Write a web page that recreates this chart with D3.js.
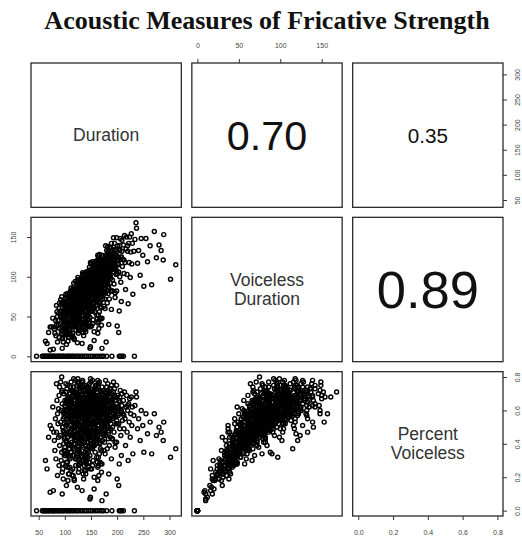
<!DOCTYPE html>
<html><head><meta charset="utf-8">
<script src="https://cdn.jsdelivr.net/npm/d3@7"></script>
<style>body{margin:0;background:#fff}svg{display:block}</style>
</head><body>
<script>
// Fricative tokens: total duration (ms), voiceless duration (ms), proportion voiceless
const duration = [
  63,66,69,72,78,94,148,149,171,
  72,75,79,84,81,83,86,88,77,89,85,87,90,82,89,80,86,88,84,90,
  92,95,94,97,99,101,103,105,107,109,91,93,96,98,100,102,104,106,108,110,
  92,95,97,99,101,103,105,107,109,94,96,98,100,102,104,106,108,93,97,101,
  105,103,107,99,109,
  111,112,113,114,115,116,117,118,119,120,121,122,123,124,125,126,127,128,129,130,
  111,112,113,114,115,116,117,118,119,120,121,122,123,124,125,126,127,128,129,130,
  111,113,115,117,119,121,123,125,127,129,112,114,116,118,120,122,124,126,128,130,
  110,112,114,116,118,120,122,124,126,128,
  131,132,133,134,135,136,137,138,139,140,141,142,143,144,145,146,147,148,149,150,
  131,132,133,134,135,136,137,138,139,140,141,142,143,144,145,146,147,148,149,150,
  131,133,135,137,139,141,143,145,147,149,132,134,136,138,140,142,144,146,148,150,
  130,133,136,139,142,145,148,135,141,147,132,134,137,140,143,146,149,138,144,150,
  151,152,153,154,155,156,157,158,159,160,161,162,163,164,165,166,167,168,169,170,
  151,152,153,154,155,156,157,158,159,160,161,162,163,164,165,166,167,168,169,170,
  150,153,156,159,162,165,168,152,158,164,170,151,154,157,160,163,166,169,155,161,167,
  152,155,158,161,164,167,170,163,166,
  171,172,173,174,175,176,177,178,179,180,181,182,183,184,185,186,187,188,189,190,
  171,173,175,177,179,181,183,185,187,189,172,174,176,178,180,182,184,186,188,190,
  173,177,181,185,189,175,179,183,187,171,
  191,192,193,194,195,196,197,198,199,200,201,202,203,204,205,206,207,208,209,210,
  191,193,195,197,199,201,203,205,207,209,192,196,200,204,208,
  211,212,213,214,215,216,217,218,219,220,221,222,223,224,225,226,227,228,229,230,
  232,234,236,237,239,241,244,246,249,251,255,258,
  263,266,271,275,280,284,288,289,302,312,
  104,118,131,142,156,167,179,188,124,137,149,161,113,128,146,171,183,135,152,163,
  109,121,133,144,158,169,176,192,127,139,151,165,116,130,148,174,186,141,154,160,
  99,114,126,138,147,157,168,181,196,122,134,145,153,162,175,119,140,150,166,143,
  96,102,108,115,121,127,133,139,146,153,98,105,111,118,124,131,137,144,157,164,
  106,112,117,123,129,136,142,149,155,161,168,173,178,184,190,197,203,132,145,158,
  101,107,113,119,125,132,138,144,151,159,165,172,180,187,194,128,135,141,148,155,
  97,103,110,116,122,129,134,140,147,152,158,163,170,177,182,189,199,205,213,220,
  100,108,115,123,130,137,143,150,156,163,170,176,104,119,126,139,146,160,167,184,
  95,102,111,120,127,134,141,149,156,164,171,178,186,193,117,145,153,139,125,160,
  105,113,121,128,136,143,151,158,166,174,181,188,195,202,110,133,147,162,176,192,
  98,107,114,122,129,135,142,148,155,162,169,177,185,103,117,131,146,159,173,188,
  101,110,118,126,133,140,147,154,161,168,175,183,191,112,125,138,151,164,178,196,
  105,113,120,127,134,141,149,156,163,170,178,186,194,108,123,137,152,166,181,199,
  96,104,111,119,126,132,139,145,152,158,165,171,179,187,115,129,143,157,172,200,
  100,106,113,120,127,133,140,146,153,160,167,174,182,190,118,136,150,165,180,195,
  95,103,109,116,122,128,135,142,149,156,163,170,99,112,126,140,153,167,106,133,
  102,109,116,124,131,138,144,151,157,164,171,178,184,192,121,135,148,162,176,208,
  111,119,128,136,145,154,163,172,181,114,132,150,168,186,125,143,161,179,139,157,
  46,57,58,61,62,64,67,68,70,73,74,77,79,80,83,86,88,90,93,96,
  97,101,104,106,109,112,115,117,121,124,127,131,134,138,141,145,149,153,158,162,
  167,171,174,180,190,204,206,209,212,233
];
const voicelessDur = [
  19,16,30,8,9,75,10,12,10,
  37,37,37,64,29,26,50,39,48,24,56,45,35,45,61,34,18,54,39,67,
  71,10,33,47,55,63,42,30,57,73,41,56,24,69,38,52,76,47,35,64,
  49,61,18,43,33,68,60,24,51,67,48,35,63,28,57,72,43,28,57,46,
  79,15,65,51,40,
  62,71,46,82,56,38,68,78,54,65,33,84,63,74,48,96,60,79,71,56,
  39,54,76,24,68,86,47,63,76,37,69,56,86,17,76,66,46,87,57,75,
  72,61,29,83,60,51,74,99,71,37,44,71,66,21,79,41,61,79,52,95,
  56,86,51,72,44,71,65,83,29,70,
  80,62,93,74,51,87,71,104,61,81,41,94,72,86,51,105,71,84,63,102,
  43,78,61,105,84,26,74,57,96,71,89,53,106,65,81,38,96,78,106,60,
  64,16,77,92,43,78,87,68,112,86,91,58,71,83,31,71,105,57,95,81,
  86,77,46,88,80,99,65,97,65,87,70,87,37,98,51,89,75,66,82,116,
  94,73,109,86,60,103,83,117,72,96,52,110,83,103,69,128,92,79,108,61,
  38,88,67,108,95,20,105,82,64,117,92,47,106,80,97,56,120,101,78,117,
  86,95,78,119,87,35,111,58,100,92,88,104,66,91,74,127,101,47,110,105,68,
  97,82,55,77,121,104,99,29,91,
  108,88,125,78,117,102,60,125,18,110,98,138,88,120,72,110,137,98,125,82,
  48,97,86,113,127,67,110,126,103,59,119,108,72,101,133,91,40,123,113,133,
  81,94,118,105,142,63,111,132,82,99,
  122,106,137,91,117,74,134,103,149,38,125,115,30,135,100,148,122,69,132,113,
  82,118,142,110,82,139,106,133,93,146,129,114,124,57,125,
  122,140,104,152,118,84,135,150,103,132,66,142,118,150,99,131,154,116,142,78,
  132,147,168,161,117,133,102,148,127,88,148,119,
  139,90,157,124,140,133,121,153,97,115,
  54,76,76,101,76,104,98,128,56,82,109,92,75,64,92,82,128,76,99,96,
  66,64,89,68,93,122,90,121,88,75,69,109,67,96,77,104,106,94,77,99,
  47,79,71,86,104,83,108,105,129,73,101,74,104,73,110,65,69,105,95,87,
  27,35,24,44,38,32,55,49,42,57,39,27,37,22,45,55,33,46,61,44,
  68,64,84,75,86,80,77,97,108,85,114,102,110,101,125,112,124,58,62,74,
  59,54,70,57,88,83,79,98,91,105,84,110,124,112,109,45,41,39,49,62,
  53,62,73,61,77,74,82,73,97,85,95,112,92,115,107,117,107,139,121,139,
  44,42,53,52,62,62,59,70,67,80,75,81,36,50,49,64,55,69,67,86,
  68,78,82,94,93,103,106,118,112,125,127,139,136,149,92,107,119,100,96,120,
  68,67,63,84,83,79,95,92,111,108,103,120,117,117,77,64,82,86,116,117,
  57,67,56,85,71,90,87,78,112,104,98,120,113,43,67,97,91,110,95,124,
  36,34,52,34,52,46,68,46,68,62,84,79,96,27,43,40,57,52,80,80,
  70,81,72,81,75,99,88,103,88,121,112,106,134,59,92,85,88,113,94,127,
  48,49,61,61,58,70,68,81,79,76,91,86,95,92,52,66,77,79,81,104,
  66,64,72,70,79,92,80,95,93,88,105,117,102,114,84,87,100,97,119,121,
  22,30,28,24,39,36,30,43,37,31,42,39,33,39,38,34,41,48,19,43,
  72,61,79,66,79,90,84,106,99,93,113,107,131,111,75,74,102,104,104,125,
  50,62,52,65,64,60,77,72,92,71,77,92,96,100,83,84,101,109,78,102,
  0,0,0,0,0,0,0,0,0,0,0,0,0,0,0,0,0,0,0,0,
  0,0,0,0,0,0,0,0,0,0,0,0,0,0,0,0,0,0,0,0,
  0,0,0,0,0,0,0,0,0,0
];
const pctVoiceless = [
  .30,.25,.44,.11,.12,.80,.07,.08,.06,
  .51,.49,.47,.76,.36,.31,.58,.44,.62,.27,.66,.52,.39,.55,.69,.42,.21,.61,.47,.74,
  .77,.10,.35,.48,.56,.62,.41,.29,.53,.67,.45,.60,.25,.70,.38,.51,.73,.44,.32,.58,
  .53,.64,.19,.43,.33,.66,.57,.22,.47,.71,.50,.36,.63,.27,.55,.68,.40,.30,.59,.46,
  .75,.15,.61,.52,.37,
  .56,.63,.41,.72,.49,.33,.58,.66,.45,.54,.27,.69,.51,.60,.38,.76,.47,.62,.55,.43,
  .35,.48,.67,.21,.59,.74,.40,.53,.64,.31,.57,.46,.70,.14,.61,.52,.36,.68,.44,.58,
  .65,.54,.25,.71,.50,.42,.60,.79,.56,.29,.39,.62,.57,.18,.66,.34,.49,.63,.41,.73,
  .51,.77,.45,.62,.37,.59,.53,.67,.23,.55,
  .61,.47,.70,.55,.38,.64,.52,.75,.44,.58,.29,.66,.50,.60,.35,.72,.48,.57,.42,.68,
  .33,.59,.46,.78,.62,.19,.54,.41,.69,.51,.63,.37,.74,.45,.56,.26,.65,.53,.71,.40,
  .49,.12,.57,.67,.31,.55,.61,.47,.76,.58,.69,.43,.52,.60,.22,.50,.73,.39,.64,.54,
  .66,.58,.34,.63,.56,.68,.44,.72,.46,.59,.53,.65,.27,.70,.36,.61,.50,.48,.57,.77,
  .62,.48,.71,.56,.39,.66,.53,.74,.45,.60,.32,.68,.51,.63,.42,.77,.55,.47,.64,.36,
  .25,.58,.44,.70,.61,.13,.67,.52,.40,.73,.57,.29,.65,.49,.59,.34,.72,.60,.46,.69,
  .57,.62,.50,.75,.54,.21,.66,.38,.63,.56,.52,.69,.43,.58,.46,.78,.61,.28,.71,.65,.41,
  .64,.53,.35,.48,.74,.62,.58,.18,.55,
  .63,.51,.72,.45,.67,.58,.34,.70,.10,.61,.54,.76,.48,.65,.39,.59,.73,.52,.66,.43,
  .28,.56,.49,.64,.71,.37,.60,.68,.55,.31,.69,.62,.41,.57,.74,.50,.22,.66,.60,.70,
  .47,.53,.65,.57,.75,.36,.62,.72,.44,.58,
  .64,.55,.71,.47,.60,.38,.68,.52,.75,.19,.62,.57,.15,.66,.49,.72,.59,.33,.63,.54,
  .43,.61,.73,.56,.41,.69,.52,.65,.45,.70,.67,.58,.62,.28,.60,
  .58,.66,.49,.71,.55,.39,.62,.69,.47,.60,.30,.64,.53,.67,.44,.58,.68,.51,.62,.34,
  .57,.63,.71,.68,.49,.55,.42,.60,.51,.35,.58,.46,
  .53,.34,.58,.45,.50,.47,.42,.53,.32,.37,
  .52,.64,.58,.71,.49,.62,.55,.68,.45,.60,.73,.57,.66,.50,.63,.48,.70,.56,.65,.59,
  .61,.53,.67,.47,.59,.72,.51,.63,.69,.54,.46,.66,.58,.74,.52,.60,.57,.67,.50,.62,
  .47,.69,.56,.62,.71,.53,.64,.58,.66,.60,.75,.51,.68,.45,.63,.55,.49,.70,.57,.61,
  .28,.34,.22,.38,.31,.25,.41,.35,.29,.37,.40,.26,.33,.19,.36,.42,.24,.32,.39,.27,
  .64,.57,.72,.61,.67,.59,.54,.65,.70,.53,.68,.59,.62,.55,.66,.57,.61,.44,.43,.47,
  .58,.50,.62,.48,.70,.63,.57,.68,.60,.66,.51,.64,.69,.60,.56,.35,.30,.28,.33,.40,
  .55,.60,.66,.53,.63,.57,.61,.52,.66,.56,.60,.69,.54,.65,.59,.62,.54,.68,.57,.63,
  .44,.39,.46,.42,.48,.45,.41,.47,.43,.49,.44,.46,.35,.42,.39,.46,.38,.43,.40,.47,
  .72,.76,.74,.78,.73,.77,.75,.79,.72,.76,.74,.78,.73,.77,.79,.74,.78,.72,.77,.75,
  .65,.59,.52,.66,.61,.55,.63,.58,.67,.62,.57,.64,.60,.58,.70,.48,.56,.53,.66,.61,
  .58,.63,.49,.70,.55,.67,.61,.53,.72,.64,.58,.68,.61,.42,.57,.74,.62,.69,.55,.66,
  .36,.31,.44,.27,.39,.33,.46,.30,.42,.37,.48,.43,.50,.24,.34,.29,.38,.32,.45,.41,
  .67,.72,.60,.64,.56,.70,.59,.66,.54,.71,.63,.57,.69,.55,.75,.62,.58,.68,.52,.64,
  .50,.47,.55,.51,.46,.53,.49,.56,.52,.48,.55,.50,.53,.49,.45,.51,.54,.50,.47,.52,
  .66,.60,.64,.58,.62,.69,.57,.65,.61,.55,.63,.67,.56,.60,.71,.64,.67,.59,.66,.62,
  .23,.29,.26,.21,.32,.28,.22,.30,.25,.20,.26,.23,.33,.35,.30,.24,.27,.29,.18,.32,
  .71,.56,.68,.53,.60,.65,.58,.70,.63,.57,.66,.60,.71,.58,.62,.55,.69,.64,.59,.60,
  .45,.52,.41,.48,.44,.39,.47,.42,.51,.62,.58,.61,.57,.54,.66,.59,.63,.61,.56,.65,
  0,0,0,0,0,0,0,0,0,0,0,0,0,0,0,0,0,0,0,0,
  0,0,0,0,0,0,0,0,0,0,0,0,0,0,0,0,0,0,0,0,
  0,0,0,0,0,0,0,0,0,0
];

const varLabels = [["Duration"], ["Voiceless", "Duration"], ["Percent", "Voiceless"]];
// correlations shown in the upper panels: (1,2), (1,3), (2,3)
const corrPairs = [[0, 1], [0, 2], [1, 2]];
const corrValues = [0.70, 0.35, 0.89];
const corrLabels = ["0.70", "0.35", "0.89"];
const durationTicks = [50, 100, 150, 200, 250, 300];
const voicelessTicks = [0, 50, 100, 150];
const pctTicks = [0, 0.2, 0.4, 0.6, 0.8];
const pctTickLabels = ["0.0", "0.2", "0.4", "0.6", "0.8"];
const titleText = "Acoustic Measures of Fricative Strength";

if (duration.length !== voicelessDur.length || duration.length !== pctVoiceless.length) {
  throw new Error("length mismatch " + duration.length + " " + voicelessDur.length + " " + pctVoiceless.length);
}

const W = 522, H = 540;
const plotLeft = 31, plotRight = 503, plotTop = 63, plotBottom = 516;
const gapX = 10.5, gapY = 10;
const cw = (plotRight - plotLeft - 2 * gapX) / 3;
const ch = (plotBottom - plotTop - 2 * gapY) / 3;
const cellX = i => plotLeft + i * (cw + gapX);
const cellY = j => plotTop + j * (ch + gapY);

const sans = "'Liberation Sans', Arial, Helvetica, sans-serif";
const columns = [duration, voicelessDur, pctVoiceless];
const tickSets = [durationTicks, voicelessTicks, pctTicks];
const tickFormats = [d => String(d), d => String(d), d => pctTickLabels[pctTicks.indexOf(d)]];

// R-style 4% padding around each variable's range
const domains = columns.map(v => {
  const [lo, hi] = d3.extent(v);
  const p = (hi - lo) * 0.04;
  return [lo - p, hi + p];
});
const xs = domains.map((dom, i) => d3.scaleLinear().domain(dom).range([cellX(i), cellX(i) + cw]));
const ys = domains.map((dom, j) => d3.scaleLinear().domain(dom).range([cellY(j) + ch, cellY(j)]));

const svg = d3.select("body").append("svg").attr("width", W).attr("height", H);
svg.append("rect").attr("width", W).attr("height", H).attr("fill", "#fff");

svg.append("text")
  .attr("x", (plotLeft + plotRight) / 2).attr("y", 29)
  .attr("text-anchor", "middle")
  .attr("font-family", "'Liberation Serif', 'Times New Roman', serif")
  .attr("font-weight", "bold").attr("font-size", 26).attr("fill", "#111")
  .text(titleText);

for (let j = 0; j < 3; j++) {
  for (let i = 0; i < 3; i++) {
    const g = svg.append("g");
    const x0 = cellX(i), y0 = cellY(j);
    if (j > i) {
      const pts = d3.range(duration.length);
      g.selectAll("circle").data(pts).join("circle")
        .attr("cx", k => xs[i](columns[i][k]))
        .attr("cy", k => ys[j](columns[j][k]))
        .attr("r", 2.0)
        .attr("fill", "none").attr("stroke", "#000").attr("stroke-width", 1.45);
    } else if (i === j) {
      const lines = varLabels[i];
      const lh = 19;
      lines.forEach((t, k) => {
        g.append("text")
          .attr("x", x0 + cw / 2)
          .attr("y", y0 + ch / 2 + (k - (lines.length - 1) / 2) * lh)
          .attr("dy", "0.35em")
          .attr("text-anchor", "middle")
          .attr("font-family", sans).attr("font-size", 17.5).attr("fill", "#333")
          .text(t);
      });
    } else {
      const c = corrPairs.findIndex(p => p[0] === j && p[1] === i);
      g.append("text")
        .attr("x", x0 + cw / 2).attr("y", y0 + ch / 2)
        .attr("dy", "0.36em")
        .attr("text-anchor", "middle")
        .attr("font-family", sans).attr("font-size", 59 * corrValues[c]).attr("fill", "#111")
        .text(corrLabels[c]);
    }
    g.append("rect")
      .attr("x", x0).attr("y", y0).attr("width", cw).attr("height", ch)
      .attr("fill", "none").attr("stroke", "#2a2a2a").attr("stroke-width", 1.3);
  }
}

function styleAxis(g) {
  g.select(".domain").remove();
  g.selectAll(".tick line").attr("stroke", "#333").attr("stroke-width", 1);
  g.selectAll(".tick text").attr("font-family", sans).attr("font-size", 7).attr("fill", "#444");
}

// column axes: bottom for odd columns, top for even
for (let i = 0; i < 3; i++) {
  if (i % 2 === 0) {
    svg.append("g").attr("transform", `translate(0,${plotBottom})`)
      .call(d3.axisBottom(xs[i]).tickValues(tickSets[i]).tickFormat(tickFormats[i]).tickSize(4))
      .call(styleAxis)
      .call(g => g.selectAll(".tick text").attr("y", 17).attr("dy", "0.35em"));
  } else {
    svg.append("g").attr("transform", `translate(0,${plotTop})`)
      .call(d3.axisTop(xs[i]).tickValues(tickSets[i]).tickFormat(tickFormats[i]).tickSize(4))
      .call(styleAxis)
      .call(g => g.selectAll(".tick text").attr("y", -17).attr("dy", "0.35em"));
  }
}
// row axes: right for odd rows, left for even
for (let j = 0; j < 3; j++) {
  if (j % 2 === 0) {
    svg.append("g").attr("transform", `translate(${plotRight},0)`)
      .call(d3.axisRight(ys[j]).tickValues(tickSets[j]).tickFormat(tickFormats[j]).tickSize(4))
      .call(styleAxis)
      .call(g => g.selectAll(".tick text").attr("x", null).attr("dy", null)
        .attr("text-anchor", "middle").attr("dominant-baseline", "central")
        .attr("transform", "translate(14.5,0) rotate(-90)"));
  } else {
    svg.append("g").attr("transform", `translate(${plotLeft},0)`)
      .call(d3.axisLeft(ys[j]).tickValues(tickSets[j]).tickFormat(tickFormats[j]).tickSize(4))
      .call(styleAxis)
      .call(g => g.selectAll(".tick text").attr("x", null).attr("dy", null)
        .attr("text-anchor", "middle").attr("dominant-baseline", "central")
        .attr("transform", "translate(-18,0) rotate(-90)"));
  }
}
</script>
</body></html>
